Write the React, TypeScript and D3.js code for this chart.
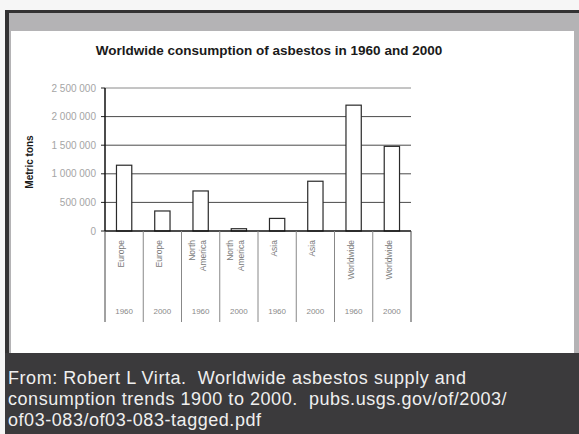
import { useEffect, useRef } from "react";
import * as d3 from "d3";

const regions = [
  ["Europe"],
  ["Europe"],
  ["North", "America"],
  ["North", "America"],
  ["Asia"],
  ["Asia"],
  ["Worldwide"],
  ["Worldwide"],
];
const years = ["1960", "2000", "1960", "2000", "1960", "2000", "1960", "2000"];
const consumption = [1150000, 350000, 700000, 40000, 220000, 870000, 2200000, 1480000];
const yTicks = [0, 500000, 1000000, 1500000, 2000000, 2500000];
const sourceLines = [
  "From: Robert L Virta.  Worldwide asbestos supply and",
  "consumption trends 1900 to 2000.  pubs.usgs.gov/of/2003/",
  "of03-083/of03-083-tagged.pdf",
];

const W = 579;
const H = 434;

export default function App() {
  const svgRef = useRef<SVGSVGElement>(null);

  useEffect(() => {
    if (!svgRef.current) return;
    const svg = d3.select(svgRef.current);
    svg.selectAll("*").remove();

    // page + scanned frame
    svg.append("rect").attr("width", W).attr("height", H).attr("fill", "#f6f6f6");
    svg.append("rect").attr("x", 5).attr("y", 10).attr("width", W - 5).attr("height", H - 10).attr("fill", "#333233");
    svg.append("rect").attr("x", 9).attr("y", 13).attr("width", W - 9).attr("height", 340).attr("fill", "#b4b3b5");
    svg.append("rect").attr("x", 11).attr("y", 31).attr("width", 563).attr("height", 322).attr("fill", "#ffffff");
    svg.append("rect").attr("x", 5).attr("y", 353).attr("width", W - 5).attr("height", H - 353).attr("fill", "#3b3a3c");

    const plot = { left: 105, right: 411, top: 88, bottom: 231 };

    const x = d3
      .scaleBand<number>()
      .domain(d3.range(consumption.length))
      .range([plot.left, plot.right])
      .paddingInner(0.6)
      .paddingOuter(0.3);

    const y = d3.scaleLinear().domain([0, 2500000]).range([plot.bottom, plot.top]);
    const step = (plot.right - plot.left) / consumption.length;
    const fmt = (v: number) => d3.format(",")(v).replace(/,/g, " ");

    // title
    svg.append("text")
      .attr("x", 269)
      .attr("y", 55)
      .attr("text-anchor", "middle")
      .attr("font-family", "Liberation Sans, Arial, sans-serif")
      .attr("font-weight", "bold")
      .attr("font-size", 13.5)
      .attr("fill", "#1a1a1a")
      .text("Worldwide consumption of asbestos in 1960 and 2000");

    // gridlines
    svg.append("g")
      .selectAll("line")
      .data(yTicks.filter((t) => t > 0))
      .join("line")
      .attr("x1", plot.left)
      .attr("x2", plot.right)
      .attr("y1", (d) => y(d))
      .attr("y2", (d) => y(d))
      .attr("stroke", (d) => (d === 2500000 ? "#8a8a8a" : "#4a4a4a"))
      .attr("stroke-width", 1);

    // y tick marks + labels
    svg.append("g")
      .selectAll("line")
      .data(yTicks)
      .join("line")
      .attr("x1", plot.left - 4)
      .attr("x2", plot.left)
      .attr("y1", (d) => y(d))
      .attr("y2", (d) => y(d))
      .attr("stroke", "#222");

    svg.append("g")
      .selectAll("text")
      .data(yTicks)
      .join("text")
      .attr("x", 96)
      .attr("y", (d) => y(d))
      .attr("dy", "0.35em")
      .attr("text-anchor", "end")
      .attr("font-family", "Liberation Sans, Arial, sans-serif")
      .attr("font-size", 10)
      .attr("fill", "#a5a5a5")
      .text((d) => fmt(d));

    svg.append("text")
      .attr("transform", "translate(33,162) rotate(-90)")
      .attr("text-anchor", "middle")
      .attr("font-family", "Liberation Sans, Arial, sans-serif")
      .attr("font-weight", "bold")
      .attr("font-size", 10)
      .attr("fill", "#1a1a1a")
      .text("Metric tons");

    // bars
    svg.append("g")
      .selectAll("rect")
      .data(consumption)
      .join("rect")
      .attr("x", (_, i) => x(i)!)
      .attr("y", (d) => y(d))
      .attr("width", x.bandwidth())
      .attr("height", (d) => y(0) - y(d))
      .attr("fill", "#ffffff")
      .attr("stroke", "#2a2a2a")
      .attr("stroke-width", 1.2);

    // axes
    svg.append("line")
      .attr("x1", plot.left).attr("x2", plot.left)
      .attr("y1", plot.top).attr("y2", plot.bottom)
      .attr("stroke", "#111").attr("stroke-width", 1.5);
    svg.append("line")
      .attr("x1", plot.left).attr("x2", plot.right)
      .attr("y1", plot.bottom).attr("y2", plot.bottom)
      .attr("stroke", "#111").attr("stroke-width", 1.5);

    // category separators
    svg.append("g")
      .selectAll("line")
      .data(d3.range(consumption.length + 1))
      .join("line")
      .attr("x1", (i) => plot.left + i * step)
      .attr("x2", (i) => plot.left + i * step)
      .attr("y1", plot.bottom)
      .attr("y2", 322)
      .attr("stroke", (i) => (i === 0 || i === consumption.length ? "#444" : "#888"))
      .attr("stroke-width", 1);

    // region labels (rotated)
    const reg = svg.append("g")
      .attr("font-family", "Liberation Sans, Arial, sans-serif")
      .attr("font-size", 8.5)
      .attr("fill", "#7a7a7a");
    regions.forEach((lines, i) => {
      const cx = plot.left + (i + 0.5) * step - 3;
      lines.forEach((ln, j) => {
        const lx = cx + (j - (lines.length - 1) / 2) * 11;
        reg.append("text")
          .attr("transform", `translate(${lx},240) rotate(-90)`)
          .attr("text-anchor", "end")
          .attr("dominant-baseline", "central")
          .text(ln);
      });
    });

    // year labels
    svg.append("g")
      .selectAll("text")
      .data(years)
      .join("text")
      .attr("x", (_, i) => plot.left + (i + 0.5) * step)
      .attr("y", 314)
      .attr("text-anchor", "middle")
      .attr("font-family", "Liberation Sans, Arial, sans-serif")
      .attr("font-size", 8)
      .attr("fill", "#8a8a8a")
      .text((d) => d);

    // source caption
    svg.append("g")
      .selectAll("text")
      .data(sourceLines)
      .join("text")
      .attr("x", 8)
      .attr("y", (_, i) => 384 + i * 21)
      .attr("font-family", "Liberation Sans, Arial, sans-serif")
      .attr("font-size", 18)
      .attr("letter-spacing", 0.55)
      .attr("fill", "#efefef")
      .style("white-space", "pre")
      .text((d) => d);
  }, []);

  return (
    <svg
      ref={svgRef}
      width={W}
      height={H}
      style={{ position: "absolute", left: 0, top: 0, display: "block" }}
    />
  );
}
